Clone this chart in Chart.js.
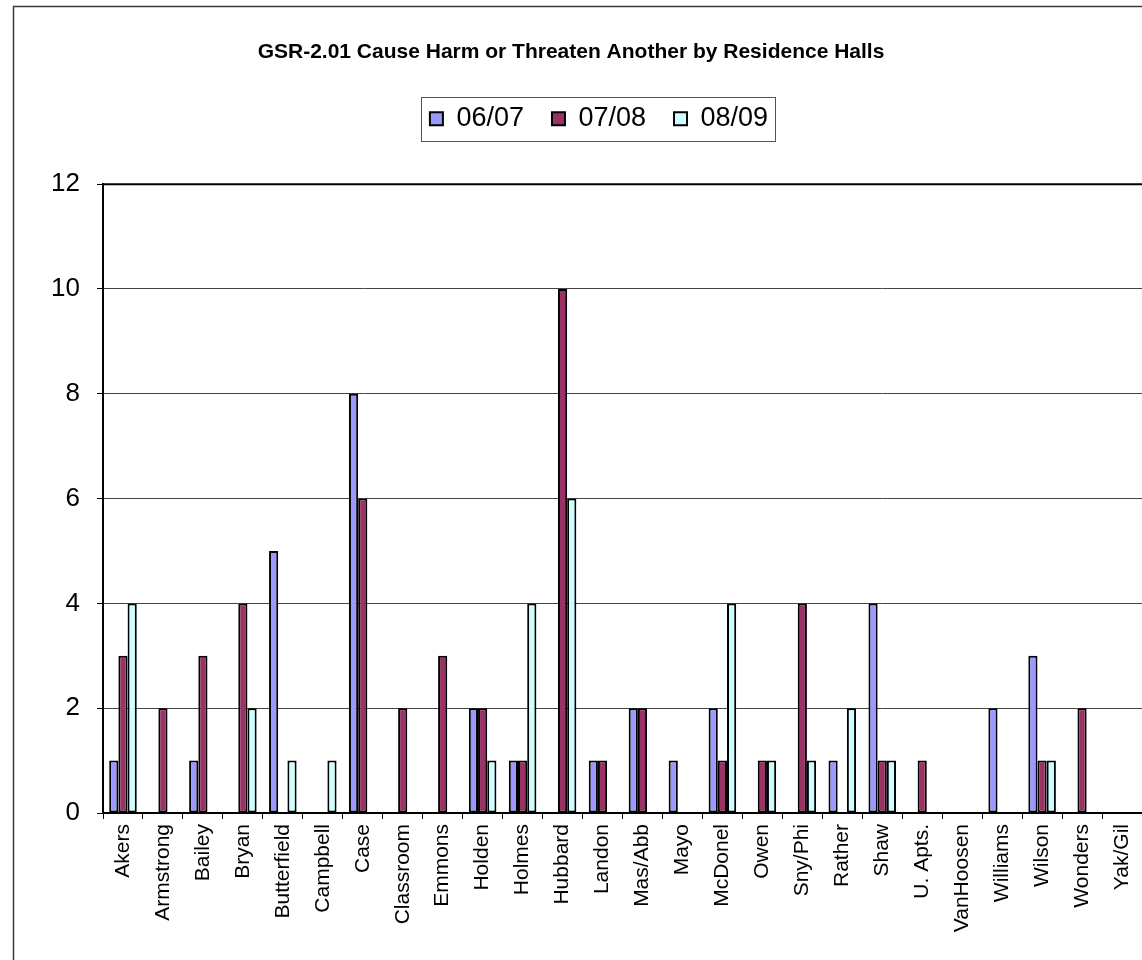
<!DOCTYPE html>
<html><head><meta charset="utf-8">
<script src="https://cdn.jsdelivr.net/npm/chart.js@4.4.0/dist/chart.umd.min.js"></script>
<style>html,body{margin:0;padding:0;background:#fff;}#wrap{width:1142px;height:960px;}</style>
</head><body><div id="wrap"><canvas id="c" width="1142" height="960"></canvas></div>
<script>
const chartTitle = 'GSR-2.01 Cause Harm or Threaten Another by Residence Halls';
const categories = ['Akers','Armstrong','Bailey','Bryan','Butterfield','Campbell','Case','Classroom','Emmons','Holden','Holmes','Hubbard','Landon','Mas/Abb','Mayo','McDonel','Owen','Sny/Phi','Rather','Shaw','U. Apts.','VanHoosen','Williams','Wilson','Wonders','Yak/Gil'];
const seriesNames = ['06/07','07/08','08/09'];
const values0607 = [1,0,1,0,5,0,8,0,0,2,1,0,1,2,1,2,0,0,1,4,0,0,2,3,0,0];
const values0708 = [3,2,3,4,0,0,6,2,3,2,1,10,1,2,0,1,1,4,0,1,1,0,0,1,2,0];
const values0809 = [4,0,0,2,1,1,0,0,0,1,4,6,0,0,0,4,1,1,2,1,0,0,0,1,0,0];
const yTicks = [0,2,4,6,8,10,12];
const colors = ['#9999FF','#993366','#CCFFFF'];
const FONT = "'Liberation Sans', Arial, Helvetica, sans-serif";

const frame = {
  id: 'frame',
  afterLayout(chart) {
    chart.legend.left += 28; chart.legend.right += 28;
  },
  beforeDraw(chart) {
    const c = chart.ctx;
    c.save(); c.fillStyle = '#fff'; c.fillRect(0,0,chart.width,chart.height); c.restore();
  },
  afterDraw(chart) {
    const c = chart.ctx, a = chart.chartArea;
    c.save();
    c.strokeStyle = '#3a3a3a'; c.lineWidth = 1.5;
    c.beginPath(); c.moveTo(13.5, chart.height); c.lineTo(13.5, 6.5); c.lineTo(chart.width, 6.5); c.stroke();
    c.strokeStyle = '#000'; c.lineWidth = 2;
    c.beginPath(); c.moveTo(a.left - 1, a.top); c.lineTo(chart.width, a.top); c.stroke();
    const hb = chart.legend.legendHitBoxes;
    if (hb && hb.length) {
      let l = Infinity, r = -Infinity;
      hb.forEach(h => { l = Math.min(l, h.left); r = Math.max(r, h.left + h.width); });
      c.strokeStyle = '#555'; c.lineWidth = 1;
      c.strokeRect(Math.round(l - 9) + 0.5, 97.5, Math.round(r - l + 16), 44);
    }
    c.restore();
  }
};

new Chart(document.getElementById('c'), {
  type: 'bar',
  data: {
    labels: categories,
    datasets: [values0607, values0708, values0809].map((v, i) => ({
      label: seriesNames[i],
      data: v,
      backgroundColor: colors[i],
      borderColor: '#000',
      borderWidth: 2,
      borderSkipped: false,
      categoryPercentage: 0.69,
      barPercentage: 1.0
    }))
  },
  options: {
    responsive: false,
    animation: false,
    devicePixelRatio: 1,
    layout: { padding: { left: 0, right: 0, top: 0, bottom: 0 } },
    plugins: {
      title: {
        display: true, text: chartTitle, color: '#000',
        font: { family: FONT, size: 21, weight: 'bold', lineHeight: 1.2 },
        padding: { top: 40, bottom: 12 }
      },
      legend: {
        display: true, position: 'top',
        labels: {
          color: '#000', font: { family: FONT, size: 27 },
          boxWidth: 13, boxHeight: 13, padding: 28
        }
      },
      subtitle: {
        display: true, text: '', weight: 500,
        font: { family: FONT, size: 2, lineHeight: 1 },
        padding: { top: 0, bottom: 40 }
      },
      tooltip: { enabled: false }
    },
    scales: {
      x: {
        offset: true,
        grid: { display: true, drawOnChartArea: false, drawTicks: true, tickLength: 6, color: '#000', tickColor: '#000', offset: true },
        border: { display: true, color: '#000', width: 2 },
        ticks: { color: '#000', font: { family: FONT, size: 21 }, minRotation: 90, maxRotation: 90, autoSkip: false, padding: 5 },
        afterFit(s) { s.height = 147; s.paddingLeft = 0; s.paddingRight = 0; }
      },
      y: {
        min: 0, max: 12,
        afterBuildTicks(s) { s.ticks = yTicks.map(v => ({ value: v })); },
        grid: { color: '#444', lineWidth: 1, tickLength: 6, tickColor: '#000' },
        border: { display: true, color: '#000', width: 2 },
        ticks: { color: '#000', font: { family: FONT, size: 26 }, padding: 17 },
        afterFit(s) { s.width = 103; }
      }
    }
  },
  plugins: [frame]
});
</script>
</body></html>
